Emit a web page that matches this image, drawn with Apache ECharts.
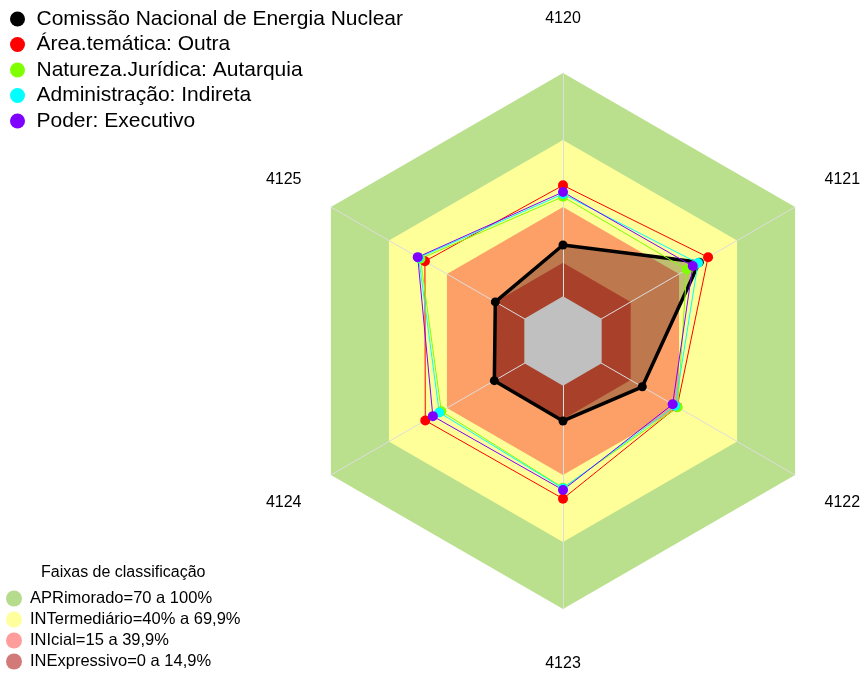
<!DOCTYPE html>
<html>
<head>
<meta charset="utf-8">
<script src="https://cdn.jsdelivr.net/npm/echarts@6/dist/echarts.min.js"></script>
<style>
  html, body { margin: 0; padding: 0; background: #fff; }
  #chart { width: 863px; height: 673px; }
</style>
</head>
<body>
<div id="chart"></div>
<script>
// eixos na ordem horária do gráfico original
const categorias = ['4120', '4121', '4122', '4123', '4124', '4125'];

const serieNomes = [
  'Comissão Nacional de Energia Nuclear',
  'Área.temática: Outra',
  'Natureza.Jurídica: Autarquia',
  'Administração: Indireta',
  'Poder: Executivo'
];
const cnen       = [23.0, 50.5, 21.0, 15.8, 15.5, 15.0];
const areaOutra  = [49.7, 55.0, 39.0, 50.6, 51.2, 51.4];
const autarquia  = [44.6, 44.0, 39.3, 45.7, 42.9, 53.7];
const indireta   = [45.8, 49.8, 38.0, 46.0, 44.0, 54.6];
const executivo  = [46.7, 47.1, 36.7, 46.7, 47.3, 55.1];

// faixas de classificação (limite superior de cada faixa)
const faixaNomes = [
  'APRimorado=70 a 100%',
  'INTermediário=40% a 69,9%',
  'INIcial=15 a 39,9%',
  'INExpressivo=0 a 14,9%'
];
const faixaLimites = [100, 70, 40, 15];
const escalaMin = -20;
const escalaMax = 100;

// ECharts desenha os eixos no sentido anti-horário -> reordena
const ordem = [0, 5, 4, 3, 2, 1];
const reord = arr => ordem.map(i => arr[i]);
const constante = v => categorias.map(() => v);

const chart = echarts.init(document.getElementById('chart'));

const faixaCores = ['#BAE08E', '#FFFF99', '#FCA068', '#A8402A'];
const legendaCores = ['#B5DC8C', '#FFFF9E', '#FF9C9C', '#D27A7A'];
const serieCores = ['#000000', '#FF0000', '#80FF00', '#00FFFF', '#8000FF'];
const valores = [cnen, areaOutra, autarquia, indireta, executivo];

function faixa(nome, limite, cor) {
  return {
    type: 'radar',
    name: nome,
    z: 1,
    silent: true,
    symbol: 'none',
    lineStyle: { opacity: 0 },
    areaStyle: { color: cor, opacity: 1 },
    data: [{ value: reord(constante(limite)), name: nome }]
  };
}

const series = [];
// verde, amarelo, salmão
for (let i = 0; i < 3; i++) series.push(faixa(faixaNomes[i], faixaLimites[i], faixaCores[i]));
// preenchimento translúcido da CNEN
series.push({
  type: 'radar',
  name: 'preenchimento',
  z: 1,
  silent: true,
  symbol: 'none',
  lineStyle: { opacity: 0 },
  areaStyle: { color: 'rgba(0,0,0,0.25)', opacity: 1 },
  data: [{ value: reord(cnen), name: 'preenchimento' }]
});
series.push(faixa(faixaNomes[3], faixaLimites[3], faixaCores[3]));
// miolo cinza
series.push({
  type: 'radar',
  name: 'miolo',
  z: 3,
  silent: true,
  symbol: 'none',
  lineStyle: { opacity: 0 },
  areaStyle: { color: '#C0C0C0', opacity: 1 },
  data: [{ value: reord(constante(0)), name: 'miolo' }]
});
// séries de dados
valores.forEach((v, i) => {
  series.push({
    type: 'radar',
    name: serieNomes[i],
    z: 4,
    symbol: 'circle',
    symbolSize: i === 0 ? 9 : 10,
    lineStyle: { color: serieCores[i], width: i === 0 ? 3.5 : 1 },
    itemStyle: { color: serieCores[i] },
    data: [{ value: reord(v), name: serieNomes[i] }]
  });
});

const option = {
  animation: false,
  title: {
    text: 'Faixas de classificação',
    left: 36,
    top: 560,
    textStyle: { fontFamily: 'Liberation Sans', fontSize: 16, fontWeight: 'normal', color: '#000' }
  },
  legend: [
    {
      data: serieNomes,
      orient: 'vertical',
      left: 5,
      top: 3.5,
      icon: 'circle',
      itemWidth: 28,
      itemHeight: 15,
      itemGap: 4.5,
      selectedMode: false,
      textStyle: { fontFamily: 'Liberation Sans', fontSize: 21, lineHeight: 21, color: '#000' }
    },
    {
      data: faixaNomes.map((n, i) => ({ name: n, itemStyle: { color: legendaCores[i] } })),
      orient: 'vertical',
      left: 6,
      top: 590,
      padding: 0,
      height: 83,
      icon: 'circle',
      itemWidth: 22,
      itemHeight: 16,
      itemGap: 4,
      selectedMode: false,
      textStyle: { fontFamily: 'Liberation Sans', fontSize: 16.5, lineHeight: 16, color: '#000' }
    }
  ],
  radar: {
    z: 2,
    center: [563, 341],
    radius: 268,
    startAngle: 90,
    shape: 'polygon',
    indicator: reord(categorias).map(c => ({ name: c, min: escalaMin, max: escalaMax })),
    nameGap: 54.5,
    axisName: {
      color: '#000',
      fontFamily: 'Liberation Sans',
      fontSize: 16,
      align: 'center',
      verticalAlign: 'middle'
    },
    axisLine: { lineStyle: { color: '#DDDDDD', width: 1 } },
    splitLine: { show: false },
    splitArea: { show: false },
    axisTick: { show: false },
    axisLabel: { show: false }
  },
  series: series
};

chart.setOption(option);
</script>
</body>
</html>
